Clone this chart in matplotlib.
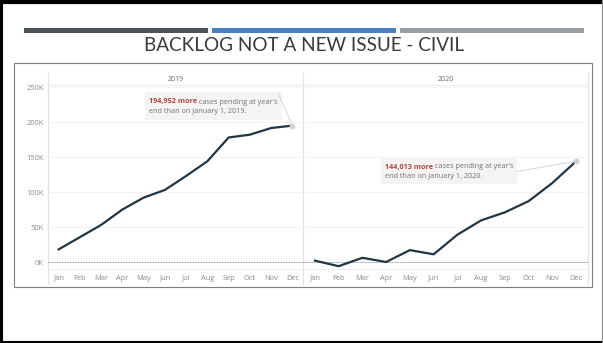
import matplotlib.pyplot as plt
from matplotlib.patches import Rectangle

# values (cases pending, relative to Jan 1 of each year)
months = ['Jan', 'Feb', 'Mar', 'Apr', 'May', 'Jun', 'Jul', 'Aug', 'Sep', 'Oct', 'Nov', 'Dec']
years = ['2019', '2020']
pending_2019 = [18000, 35500, 53000, 75000, 92000, 103000, 123000, 144000, 178000, 182000, 191500, 194952]
pending_2020 = [2000, -6000, 6000, 0, 17000, 11000, 39000, 59500, 71000, 87000, 113000, 144013]
year_increase = [194952, 144013]
y_ticks = [0, 50000, 100000, 150000, 200000, 250000]

W, H = 603, 343
LINE = '#1e3646'
RED = '#b3433b'
TXT = '#707070'
PANE = '#e3e3e3'

fig = plt.figure(figsize=(W / 100, H / 100), dpi=100)


def box(x0, y0, x1, y1):
    # pixel rectangle (top-left origin) -> figure fraction
    return [x0 / W, 1 - y1 / H, (x1 - x0) / W, (y1 - y0) / H]


# background layer: slide frame, title bars, chart border
bg = fig.add_axes([0, 0, 1, 1])
bg.set_xlim(0, W)
bg.set_ylim(H, 0)
bg.axis('off')
bg.plot([0, W], [2, 2], color='black', lw=3)
bg.plot([1.2, 1.2], [0, H], color='black', lw=2.2)
bg.plot([0, W], [341.5, 341.5], color='black', lw=2.2)
bg.plot([601.5, 601.5], [0, H], color='#8a8a8a', lw=0.8)
for x0, c in zip([24, 212, 400], ['#4a555b', '#4a80bd', '#979ea6']):
    bg.add_patch(Rectangle((x0, 28), 184, 5, color=c, lw=0))
bg.text(304, 51, 'BACKLOG NOT A NEW ISSUE - CIVIL', ha='center', va='baseline',
        fontsize=13.6, color='#3a3a3a', family='Lato')
bg.add_patch(Rectangle((14, 62.5), 578, 224.5, fill=False, ec='#7d7d7d', lw=0.8))

# pane separators / header band
for x in [48, 303, 588]:
    bg.plot([x, x], [73, 284], color=PANE, lw=0.9)
bg.plot([48, 588], [85, 85], color='#ececec', lw=0.7)
bg.plot([48, 588], [269, 269], color='#ececec', lw=0.7)
bg.text(175.5, 79.5, years[0], ha='center', va='center', fontsize=5, color='#666666', family='Open Sans')
bg.text(445.5, 79.5, years[1], ha='center', va='center', fontsize=5, color='#666666', family='Open Sans')

ax1 = fig.add_axes(box(48, 85, 303, 269))
ax2 = fig.add_axes(box(303, 85, 588, 269))

for ax, vals in zip([ax1, ax2], [pending_2019, pending_2020]):
    ax.patch.set_alpha(0)
    for s in ax.spines.values():
        s.set_visible(False)
    ax.set_xlim(-0.5, 11.5)
    ax.set_ylim(-10000, 253000)
    for v in y_ticks[1:]:
        ax.axhline(v, color='#f1f1f1', lw=0.6, zorder=0)
    ax.axhline(0, color='#8c8c8c', lw=0.6, dashes=(2, 1.2), zorder=1)
    ax.plot(range(len(months)), vals, color=LINE, lw=1.6, solid_joinstyle='round', zorder=2)
    ax.plot(len(months) - 1, vals[-1], 'o', ms=3.2, color='#d2d2d2', zorder=3)
    ax.set_xticks(range(len(months)), months)
    ax.tick_params(axis='both', length=0, labelsize=5.4, labelcolor='#8a8a8a')
    ax.tick_params(axis='x', pad=4)
    for lab in ax.get_xticklabels() + ax.get_yticklabels():
        lab.set_family('Open Sans')

ax1.set_yticks(y_ticks, [f'{v // 1000}K' for v in y_ticks])
ax1.tick_params(axis='y', pad=3)
ax2.set_yticks([])

# annotation layer on top
top = fig.add_axes([0, 0, 1, 1])
top.set_xlim(0, W)
top.set_ylim(H, 0)
top.axis('off')

notes = [
    (ax1, pending_2019, year_increase[0], years[0], (145, 92, 137, 28), (278, 93)),
    (ax2, pending_2020, year_increase[1], years[1], (381, 157, 136, 27), (517, 171.5)),
]
for ax, vals, inc, yr, (bx, by, bw, bh), start in notes:
    top.annotate('', xy=(len(months) - 1, vals[-1]), xycoords=ax.transData,
                 xytext=start, textcoords='data',
                 arrowprops=dict(arrowstyle='-', color='#cfcfcf', lw=0.6, shrinkA=0, shrinkB=0))
    top.add_patch(Rectangle((bx, by), bw, bh, fc='#f6f4f2', ec='none'))
    t1 = top.text(bx + 4, by + 10, f'{inc:,} more', fontsize=5.2, weight='bold',
                  color=RED, va='center', family='Open Sans')
    top.annotate(" cases pending at year's", xy=(1, 0), xycoords=t1, ha='left', va='bottom',
                 fontsize=5.2, color=TXT, family='Open Sans')
    top.text(bx + 4, by + 19.5, f'end than on January 1, {yr}.', fontsize=5.2,
             color=TXT, va='center', family='Open Sans')

fig.savefig('out.png', dpi=100)
